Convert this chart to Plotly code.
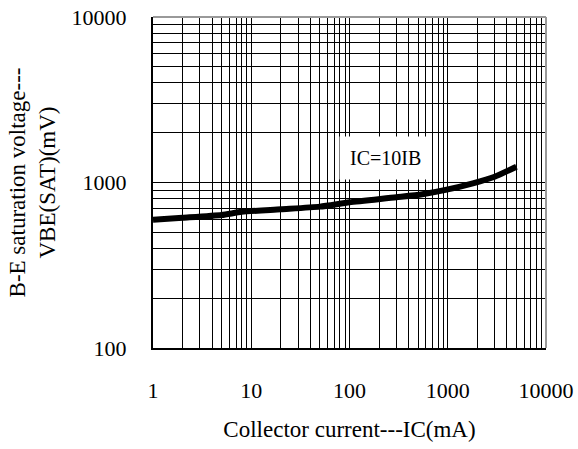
import math
import plotly.graph_objects as go

# Data
ic_ma = [1, 2, 5, 8, 20, 50, 100, 300, 550, 950, 1800, 3000, 5000]
vbe_sat_mv = [596, 612, 636, 665, 689, 715, 759, 814, 849, 902, 989, 1084, 1245]

x_ticks = [1, 10, 100, 1000, 10000]
x_tick_text = ["1", "10", "100", "1000", "10000"]
y_ticks = [100, 1000, 10000]
y_tick_text = ["100", "1000", "10000"]

annotation_text = "IC=10IB"
annotation_ic = 235
annotation_v = 1400

FONT = "Liberation Serif, Times New Roman, serif"

fig = go.Figure()
fig.add_trace(go.Scatter(
    x=ic_ma, y=vbe_sat_mv, mode="lines",
    line=dict(color="black", width=6, shape="spline", smoothing=0.6),
    hoverinfo="skip", showlegend=False,
))

# annotations on log axes are positioned in log10 units
fig.add_annotation(
    x=math.log10(annotation_ic), y=math.log10(annotation_v), xref="x", yref="y",
    text=annotation_text, showarrow=False,
    font=dict(family=FONT, size=20, color="black"),
    bgcolor="white", borderpad=10,
)

axis_common = dict(
    type="log",
    showgrid=True, gridcolor="black", gridwidth=1,
    showline=True, linecolor="black", linewidth=2,
    ticks="", zeroline=False,
    tickfont=dict(family=FONT, size=22, color="black"),
    minor=dict(dtick="D1", showgrid=True, gridcolor="black", gridwidth=1, ticks=""),
)

fig.update_xaxes(
    **axis_common,
    range=[0, 4],
    tickvals=x_ticks, ticktext=x_tick_text,
    ticklabelstandoff=22,
    title=dict(text="Collector current---IC(mA)",
               font=dict(family=FONT, size=23, color="black"), standoff=18),
)
fig.update_yaxes(
    **axis_common,
    range=[2, 4],
    tickvals=y_ticks, ticktext=y_tick_text,
    ticklabelstandoff=20,
    title=dict(text="B-E saturation voltage---<br>VBE(SAT)(mV)",
               font=dict(family=FONT, size=23, color="black"), standoff=10),
)

# gray top/right frame
fig.add_shape(type="line", xref="paper", yref="paper", x0=0, x1=1, y0=1, y1=1,
              line=dict(color="#999999", width=2))
fig.add_shape(type="line", xref="paper", yref="paper", x0=1, x1=1, y0=0, y1=1,
              line=dict(color="#999999", width=2))

fig.update_layout(
    width=578, height=449,
    margin=dict(l=153, r=32, t=17, b=101, autoexpand=False),
    paper_bgcolor="white", plot_bgcolor="white",
    font=dict(family=FONT, color="black"),
)

fig.write_html("out.html")
